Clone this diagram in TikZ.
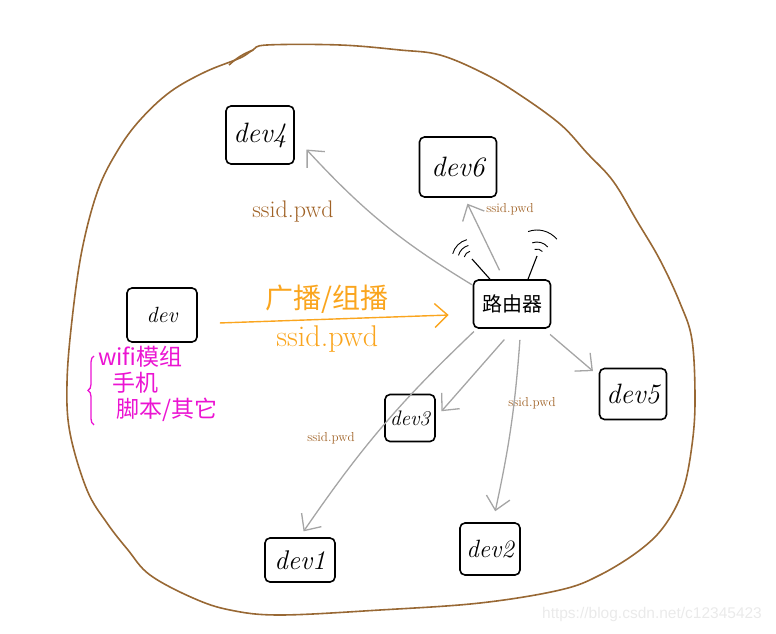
\documentclass[tikz,border=0pt]{standalone}
\usepackage{fontspec}
\newfontfamily\cjk{Noto Sans CJK SC}
\newfontfamily\markfont{Liberation Sans}
\usetikzlibrary{arrows.meta,positioning,decorations.pathreplacing}
\definecolor{ringbrown}{RGB}{152,104,52}
\definecolor{pwdbrown}{RGB}{160,98,38}
\definecolor{castorange}{RGB}{250,165,30}
\definecolor{linkgray}{RGB}{165,165,165}
\definecolor{usemagenta}{RGB}{235,20,210}
\definecolor{markgray}{RGB}{234,234,234}
\tikzset{%
  % Specifications for style of arrows:
   relay/.style={
           -{Straight Barb[length=13pt,width=24pt]},
           draw=linkgray, line width=1.3pt,
           shorten <=1pt,
           shorten >=1pt,},
   broadcast/.style={
           relay,
           draw=castorange, line width=1.4pt},
   antenna/.style={
           draw=black, line width=1.1pt},
   usebrace/.style={
           decorate, decoration={brace, amplitude=6pt},
           draw=usemagenta, line width=1.3pt},
  % Specifications for style of nodes:
   base/.style = {rectangle, rounded corners=5pt, draw=black, line width=1.6pt,
                  minimum width=68pt, minimum height=52pt, inner sep=2pt,
                  text centered, font=\fontsize{27}{29}\selectfont\itshape},
   smallbase/.style = {base, minimum width=50pt, minimum height=47pt,
                  font=\fontsize{21}{23}\selectfont\itshape},
   router/.style = {base, minimum width=77pt, minimum height=48pt,
                  font=\cjk\fontsize{20}{22}\selectfont},
   pwd/.style = {text=pwdbrown, inner sep=0pt, font=\fontsize{13}{15}\selectfont},
   castlabel/.style = {text=castorange, inner sep=0pt},
   usage/.style = {text=usemagenta, align=left, inner sep=0pt,
                  font=\cjk\fontsize{23}{26}\selectfont},
}
\begin{document}
\begin{tikzpicture}[x=1pt, y=-1pt]
  \useasboundingbox (0,0) rectangle (776,634);

  % Outline of the network
  \draw[ringbrown, line width=1.6pt] plot[smooth cycle, tension=0.6] coordinates {
    (253,50) (267,45) (340,45) (400,50) (440,55) (483,73) (517,93) (560,124)
    (587,153) (613,181) (637,221) (660,260) (680,303) (692,340) (695,400)
    (692,445) (683,490) (665,525) (640,550) (600,575) (560,590) (480,603)
    (380,610) (280,615) (230,610) (193,598) (150,575) (128,550) (107,523)
    (87,490) (70,433) (67,383) (72,320) (82,250) (98,190) (118,150) (140,120)
    (170,92) (205,72) (240,58)};
  \draw[ringbrown, line width=1.6pt] (229,65) to[bend left=10] (253,50);

  % Specification of nodes (position, etc.)
  \node (router)   [router]    at (512,304) {路由器};
  \node (dev)      [base, minimum width=70pt, minimum height=54pt,
                    font=\fontsize{22}{24}\selectfont\itshape] at (162,315) {dev};
  \node (devfour)  [base, minimum height=58pt, font=\fontsize{28}{30}\selectfont\itshape] at (260,135) {dev4};
  \node (devsix)   [base, minimum width=77pt, minimum height=60pt,
                    font=\fontsize{28}{30}\selectfont\itshape] at (458,167) {dev6};
  \node (devthree) [smallbase] at (410,418) {dev3};
  \node (devfive)  [base, minimum width=67pt, minimum height=51pt,
                    font=\fontsize{28}{30}\selectfont\itshape] at (633,394) {dev5};
  \node (devone)   [base, minimum width=70pt, minimum height=44pt] at (300,560) {dev1};
  \node (devtwo)   [base, minimum width=60pt, minimum height=52pt,
                    font=\fontsize{25}{27}\selectfont\itshape] at (490,549) {dev2};

  \node (uses) [usage, anchor=north west] at (98,346)
        {wifi模组\\\hspace*{14pt}手机\\\hspace*{18pt}脚本/其它};
  \draw[usebrace] ([xshift=-4pt,yshift=-3pt]uses.south west) -- ([xshift=-4pt,yshift=-10pt]uses.north west);

  \node (pwdfour) [pwd, font=\fontsize{24}{26}\selectfont] at (293,212) {ssid.pwd};
  \node (pwdsix)  [pwd] at (510,209) {ssid.pwd};
  \node (pwdtwo)  [pwd] at (532,403) {ssid.pwd};
  \node (pwdone)  [pwd] at (331,438) {ssid.pwd};

  % Antennas of the router
  \coordinate (leftmast) at (472,259);
  \coordinate (rightmast) at (537,256);
  \draw[antenna] ([xshift=-22pt]router.north) -- (leftmast);
  \draw[antenna] ([xshift=16pt]router.north) -- (rightmast);
  \foreach \r in {8,14,20}
    \draw[antenna, line width=0.9pt] ([shift={(195:\r)}]leftmast) arc[start angle=195, end angle=255, radius=\r];
  \foreach \r in {7,14,26}
    \draw[antenna, line width=0.9pt] ([shift={(250:\r)}]rightmast) arc[start angle=250, end angle=320, radius=\r];

  % Broadcast from dev to the router
  \draw[broadcast] ([xshift=21pt,yshift=-8pt]dev.east) -- ([xshift=-23pt,yshift=-11pt]router.west)
     node[castlabel, pos=0.47, above=5pt, font=\cjk\fontsize{28}{30}\selectfont] (castmode) {广播/组播}
     node[castlabel, pos=0.47, below=6pt, font=\fontsize{30}{32}\selectfont] (castpwd) {ssid.pwd};

  % Router hands ssid.pwd to the devices
  \draw[relay] ([yshift=-6pt]router.north west) to[bend left=8] ([xshift=11pt,yshift=16pt]devfour.south east);
  \draw[relay] ([xshift=-12pt,yshift=8pt]router.north) -- ([xshift=9pt,yshift=-5pt]devsix.south);
  \draw[relay] ([xshift=-2pt,yshift=-5pt]router.south east) -- ([xshift=-5pt,yshift=-4pt]devfive.north west);
  \draw[relay] ([xshift=8pt,yshift=-10pt]router.south) to[bend left=4] ([xshift=5pt,yshift=10pt]devtwo.north);
  \draw[relay] ([xshift=-7pt,yshift=-10pt]router.south) -- ([xshift=5pt,yshift=6pt]devthree.east);
  \draw[relay] ([xshift=2pt,yshift=-2pt]router.south west) to[bend right=6] ([xshift=3pt,yshift=5pt]devone.north);

  \node (mark) [text=markgray, inner sep=0pt, font=\markfont\fontsize{15.5}{17}\selectfont] at (652,614) {https://blog.csdn.net/c12345423};
\end{tikzpicture}
\end{document}
